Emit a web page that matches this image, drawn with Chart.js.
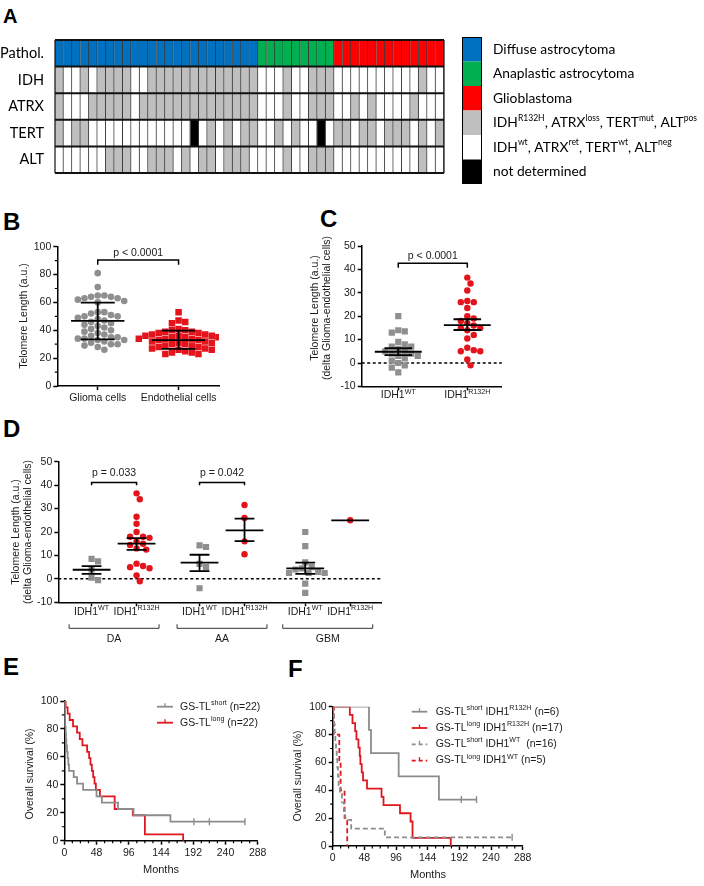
<!DOCTYPE html>
<html><head><meta charset="utf-8">
<script src="https://cdn.jsdelivr.net/npm/chart.js@4.4.0/dist/chart.umd.min.js"></script>
<style>
html,body{margin:0;padding:0;background:#fff;}
body{width:704px;height:886px;position:relative;overflow:hidden;font-family:"Liberation Sans",Arial,sans-serif;}
canvas{position:absolute;}
.lbl{position:absolute;font-weight:bold;font-size:24px;line-height:1;color:#000;font-family:"Liberation Sans",Arial,sans-serif;}
</style></head><body>
<div class="lbl" style="left:3px;top:6px;font-size:20px">A</div>
<div class="lbl" style="left:3px;top:210px">B</div>
<div class="lbl" style="left:320px;top:207px">C</div>
<div class="lbl" style="left:3px;top:417px">D</div>
<div class="lbl" style="left:3px;top:655px">E</div>
<div class="lbl" style="left:288px;top:657px">F</div>
<canvas id="cA" width="704" height="160" style="left:0;top:30px"></canvas>
<canvas id="cB" width="240" height="190" style="left:0;top:230px"></canvas>
<canvas id="cC" width="220" height="180" style="left:290px;top:230px"></canvas>
<canvas id="cD" width="400" height="205" style="left:0;top:445px"></canvas>
<canvas id="cE" width="300" height="196" style="left:0;top:690px"></canvas>
<canvas id="cF" width="414" height="196" style="left:290px;top:690px"></canvas>
<script>
// ================= DATA =================
// Panel A
const rowLabels = ['Pathol.', 'IDH', 'ATRX', 'TERT', 'ALT'];
const pathology = ['DA','DA','DA','DA','DA','DA','DA','DA','DA','DA','DA','DA','DA','DA','DA','DA','DA','DA','DA','DA','DA','DA','DA','DA',
                   'AA','AA','AA','AA','AA','AA','AA','AA','AA',
                   'GBM','GBM','GBM','GBM','GBM','GBM','GBM','GBM','GBM','GBM','GBM','GBM','GBM'];
// 1 = IDH R132H / ATRX loss / TERT mut / ALT pos, 0 = wt / ret / wt / neg, 2 = not determined
const idhRow  = [1,0,0,1,0,1,1,1,1,0,0,1,1,1,1,1,1,1,1,1,1,1,1,1, 0,0,0,1,0,0,1,1,1, 0,0,0,0,0,0,0,0,0,0,1,0,0];
const atrxRow = [1,0,0,0,1,1,1,1,1,0,1,1,1,1,1,1,1,1,1,1,1,1,1,1, 0,0,0,1,0,0,1,1,1, 0,0,1,0,1,0,0,0,0,1,0,0,0];
const tertRow = [1,0,1,1,0,0,0,0,0,0,0,0,0,0,0,0,2,0,1,0,1,0,1,1, 0,0,1,0,1,0,0,2,0, 1,1,0,1,1,0,1,1,1,0,1,0,1];
const altRow  = [0,0,0,0,0,0,1,1,1,0,0,1,1,1,0,1,0,1,1,0,1,1,1,0, 0,0,0,1,0,0,1,1,1, 0,0,0,0,0,0,0,0,0,0,1,0,0];
const legendALabels = [
  ['Diffuse astrocytoma'],
  ['Anaplastic astrocytoma'],
  ['Glioblastoma'],
  ['IDH', ['R132H'], ', ATRX', ['loss'], ', TERT', ['mut'], ', ALT', ['pos']],
  ['IDH', ['wt'], ', ATRX', ['ret'], ', TERT', ['wt'], ', ALT', ['neg']],
  ['not determined']
];

// Panel B
const bCategories = ['Glioma cells', 'Endothelial cells'];
const bGlioma = [81,71,65,65,64,64,63,63,62,61,60,53,53,52,51,50,50,49,48,47,46,45,44,43,42,41,40,39,38,37,36,35,35,34,34,33,33,32,31,30,30,29,28,26];
const bEndothelial = [53,47,46,45,41,40,40,39,39,38,38,37,37,36,36,36,35,35,35,34,34,34,33,33,33,32,32,31,31,30,30,29,29,28,28,27,27,26,26,25,24,24,23,23];
const bMean = [46.7, 33.0];
const bLow = [33.5, 26.6];
const bHigh = [59.8, 39.7];
const bP = 'p < 0.0001';

// Panel C
const cWT = [20,14,13.5,13,9,8,7,7,6,5,5,4,4,3,3,2,1,0,-1,-2,-4];
const cR132H = [36.5,34,31,26.5,26,26,23.5,20,19,18,17,16,15,15,14,12,10.5,6.5,5.5,5,5,1.5,-1];
const cMean = [4.8, 16.2];
const cLow = [3.4, 14.1];
const cHigh = [6.3, 18.7];
const cP = 'p < 0.0001';

// Panel D
const dGroups = ['DA', 'AA', 'GBM'];
const dDA_WT = [8.5,7.5,4,0.5,-0.5];
const dDA_R132H = [36.5,34,26.5,23.5,20,18,18,17.5,16,15,14.5,13,12.5,6.5,5.5,5,4.5,1.5,-1];
const dAA_WT = [14.3,13.6,6.4,5,-4];
const dAA_R132H = [31.5,26,16,10.5];
const dGBM_WT = [20,14,7,5,4.5,4,3,2.5,2.5,2.5,-2,-6];
const dGBM_R132H = [25];
const dMean = [3.9, 15.0, 6.9, 20.7, 4.5, 25];
const dLow  = [2.1, 12.4, 3.3, 16.1, 2.1, 25];
const dHigh = [5.4, 17.4, 10.3, 25.7, 6.9, 25];
const dP = ['p = 0.033', 'p = 0.042'];

// Panel E (Kaplan-Meier steps: months, survival %)
const eShortT = [0,1,2,2.5,3,4,5,6,7,14,19,28,48,56,80,103,158,269];
const eShortS = [100,81.8,77.3,72.7,68.2,63.6,59.1,54.5,50,45.5,40.9,36.4,31.8,27.3,22.7,18.2,13.6,13.6];
const eShortCensT = [193,216,269];
const eShortCensS = [13.6,13.6,13.6];
const eLongT = [0,2,5,8,13,19,23,27,34,37,39,41,43,45,47,53,75,102,120,177];
const eLongS = [100,95.5,90.9,86.4,81.8,77.3,72.7,68.2,63.6,59.1,54.5,50,45.5,40.9,36.4,31.8,22.7,18.2,4.5,0];
const eLegend = [
  ['GS-TL', ['short'], ' (n=22)'],
  ['GS-TL', ['long'], ' (n=22)']
];

// Panel F
const fShortMutT = [0,55,58,100,161,218];
const fShortMutS = [100,83.3,66.7,50,33.3,33.3];
const fShortMutCensT = [195,218];
const fShortMutCensS = [33.3,33.3];
const fLongMutT = [0,26,30,34,36,39,41,42,44,46,52,74,77,102,118,121,179];
const fLongMutS = [100,94.1,88.2,82.4,76.5,70.6,64.7,58.8,52.9,47.1,41.2,35.3,29.4,23.5,17.6,5.9,0];
const fShortWtT = [0,1,2,3,4,5,6,7,8,9,11,14,17,19,28,79,272];
const fShortWtS = [100,93.75,87.5,81.25,75,68.75,62.5,56.25,50,43.75,37.5,31.25,25,18.75,12.5,6.25,6.25];
const fShortWtCensT = [272];
const fShortWtCensS = [6.25];
const fLongWtT = [0,2,10,12,18,22];
const fLongWtS = [100,80,60,40,20,0];
const fLegend = [
  ['GS-TL', ['short'], ' IDH1', ['R132H'], ' (n=6)'],
  ['GS-TL', ['long'], ' IDH1', ['R132H'], ' (n=17)'],
  ['GS-TL', ['short'], ' IDH1', ['WT'], '  (n=16)'],
  ['GS-TL', ['long'], ' IDH1', ['WT'], ' (n=5)']
];
const kmTicks = [0,48,96,144,192,240,288];

// ================= STYLE / HELPERS =================
const FONT = '"Liberation Sans", Arial, Helvetica, sans-serif';
const LATO = 'Lato, Carlito, sans-serif';
const TXT = '#1a1a1a';
const TICK = { family: FONT, size: 10.5 };
const GRAYPT = '#8f8f8f', REDPT = '#e3141c';
const GRAYLN = '#8c8c8c', REDLN = '#e0161e';
const patholColor = { DA: '#0070C0', AA: '#00B050', GBM: '#FF0000' };
const statusColor = { 0: '#FFFFFF', 1: '#BFBFBF', 2: '#000000' };
const legendAColors = ['#0070C0', '#00B050', '#FF0000', '#BFBFBF', '#FFFFFF', '#000000'];

function richText(ctx, x, y, parts, size, family, align, color, ratio) {
  const sub = size * (ratio || 0.68);
  const segs = parts.map(p => typeof p === 'string' ? { t: p, s: false } : { t: p[0], s: true });
  let w = 0;
  segs.forEach(g => { ctx.font = (g.s ? sub : size) + 'px ' + family; g.w = ctx.measureText(g.t).width; w += g.w; });
  let cx = align === 'center' ? x - w / 2 : (align === 'right' ? x - w : x);
  ctx.save();
  ctx.fillStyle = color || TXT; ctx.textAlign = 'left'; ctx.textBaseline = 'middle';
  segs.forEach(g => { ctx.font = (g.s ? sub : size) + 'px ' + family; ctx.fillText(g.t, cx, g.s ? y - size * 0.36 : y); cx += g.w; });
  ctx.restore();
}
function rotText(ctx, x, y, text, size) {
  ctx.save(); ctx.translate(x, y); ctx.rotate(-Math.PI / 2);
  ctx.font = size + 'px ' + FONT; ctx.fillStyle = TXT; ctx.textAlign = 'center'; ctx.textBaseline = 'middle';
  ctx.fillText(text, 0, 0); ctx.restore();
}
function plainText(ctx, x, y, text, size) {
  ctx.save(); ctx.font = size + 'px ' + FONT; ctx.fillStyle = TXT; ctx.textAlign = 'center'; ctx.textBaseline = 'middle';
  ctx.fillText(text, x, y); ctx.restore();
}
function swarm(vals, cx, dxu, dyu) {
  const idx = vals.map((_, i) => i).sort((a, b) => vals[b] - vals[a]);
  const placed = [];
  const pts = [];
  for (const i of idx) {
    const v = vals[i];
    let best = 0;
    for (let k = 0; k < 80; k++) {
      const off = (k === 0 ? 0 : (k % 2 ? 1 : -1) * Math.ceil(k / 2)) * 0.5 * dxu;
      const ok = placed.every(p => ((p.o - off) / dxu) ** 2 + ((p.v - v) / dyu) ** 2 >= 0.95);
      if (ok) { best = off; break; }
    }
    placed.push({ o: best, v: v });
    pts.push({ x: cx + best, y: v });
  }
  return pts;
}
function pts(t, s) { return t.map((v, i) => ({ x: v, y: s[i] })); }

function yAxis(min, max, step, width) {
  return {
    type: 'linear', min: min, max: max,
    ticks: { stepSize: step, font: TICK, color: TXT, padding: 2 },
    grid: { drawOnChartArea: false, drawTicks: true, tickLength: 4, tickWidth: 1.5, tickColor: '#000' },
    border: { display: true, color: '#000', width: 1.5 },
    afterFit: s => { s.width = width; }
  };
}
function xAxis(min, max, tickVals, labelFn, height) {
  return {
    type: 'linear', min: min, max: max,
    afterBuildTicks: s => { s.ticks = tickVals.map(v => ({ value: v })); },
    ticks: { font: TICK, color: TXT, padding: 2, maxRotation: 0, autoSkip: false, callback: labelFn },
    grid: { drawOnChartArea: false, drawTicks: true, tickLength: 4, tickWidth: 1.5, tickColor: '#000' },
    border: { display: true, color: '#000', width: 1.5 },
    afterFit: s => { s.height = height; }
  };
}
function minorTicks(chart, axis, step, len) {
  const s = chart.scales[axis], ctx = chart.ctx, a = chart.chartArea;
  ctx.save(); ctx.strokeStyle = '#000'; ctx.lineWidth = 1.2; ctx.beginPath();
  for (let v = s.min; v <= s.max + 1e-9; v += step) {
    if (s.ticks.some(t => Math.abs(t.value - v) < 1e-9)) continue;
    const p = s.getPixelForValue(v);
    if (axis === 'y') { ctx.moveTo(a.left, p); ctx.lineTo(a.left - len, p); }
    else { ctx.moveTo(p, a.bottom); ctx.lineTo(p, a.bottom + len); }
  }
  ctx.stroke(); ctx.restore();
}
function errBars(chart, xs, mean, lo, hi, mw, cw) {
  const ctx = chart.ctx, x = chart.scales.x, y = chart.scales.y;
  ctx.save(); ctx.strokeStyle = '#000'; ctx.lineWidth = 1.8; ctx.beginPath();
  xs.forEach((xv, i) => {
    const px = x.getPixelForValue(xv);
    const mwp = x.getPixelForValue(xv + mw) - px, cwp = x.getPixelForValue(xv + cw) - px;
    const pm = y.getPixelForValue(mean[i]), pl = y.getPixelForValue(lo[i]), ph = y.getPixelForValue(hi[i]);
    ctx.moveTo(px - mwp, pm); ctx.lineTo(px + mwp, pm);
    if (hi[i] !== lo[i]) {
      ctx.moveTo(px, pl); ctx.lineTo(px, ph);
      ctx.moveTo(px - cwp, pl); ctx.lineTo(px + cwp, pl);
      ctx.moveTo(px - cwp, ph); ctx.lineTo(px + cwp, ph);
    }
  });
  ctx.stroke(); ctx.restore();
}
function pBracket(chart, x1, x2, yv, legv, txt, gap) {
  const ctx = chart.ctx, x = chart.scales.x, y = chart.scales.y;
  const p1 = x.getPixelForValue(x1), p2 = x.getPixelForValue(x2), py = y.getPixelForValue(yv), pl = y.getPixelForValue(legv);
  ctx.save(); ctx.strokeStyle = '#000'; ctx.lineWidth = 1.5; ctx.beginPath();
  ctx.moveTo(p1, pl); ctx.lineTo(p1, py); ctx.lineTo(p2, py); ctx.lineTo(p2, pl); ctx.stroke(); ctx.restore();
  plainText(ctx, (p1 + p2) / 2, py - gap, txt, 10.5);
}
function zeroLine(chart) {
  const ctx = chart.ctx, a = chart.chartArea, py = chart.scales.y.getPixelForValue(0);
  ctx.save(); ctx.strokeStyle = '#000'; ctx.lineWidth = 1.5; ctx.setLineDash([3, 2.5]);
  ctx.beginPath(); ctx.moveTo(a.left, py); ctx.lineTo(a.right, py); ctx.stroke(); ctx.restore();
}
const baseOpts = { responsive: false, animation: false, devicePixelRatio: 1, events: [],
  plugins: { legend: { display: false }, tooltip: { enabled: false } } };
function opts(extra) { return Object.assign({}, baseOpts, extra); }

// ================= PANEL A =================
const datasetsA = pathology.map((p, c) => ({
  data: rowLabels.map(() => 1),
  backgroundColor: [patholColor[p], statusColor[idhRow[c]], statusColor[atrxRow[c]], statusColor[tertRow[c]], statusColor[altRow[c]]],
  borderColor: '#3a3a3a', borderWidth: { left: 0, right: 1, top: 0, bottom: 0 }, borderSkipped: false,
  barPercentage: 1, categoryPercentage: 1
}));
new Chart(document.getElementById('cA'), {
  type: 'bar',
  data: { labels: rowLabels, datasets: datasetsA },
  options: opts({
    indexAxis: 'y',
    layout: { padding: { top: 10, bottom: 17, left: 55, right: 260 } },
    scales: {
      x: { stacked: true, min: 0, max: pathology.length, display: false },
      y: { stacked: true, display: false }
    }
  }),
  plugins: [{
    id: 'gridA',
    afterDatasetsDraw(chart) {
      const ctx = chart.ctx, a = chart.chartArea, n = rowLabels.length, h = (a.bottom - a.top) / n;
      ctx.save(); ctx.strokeStyle = '#111'; ctx.lineWidth = 2; ctx.beginPath();
      for (let k = 0; k <= n; k++) { const y = a.top + k * h; ctx.moveTo(a.left, y); ctx.lineTo(a.right, y); }
      ctx.stroke();
      ctx.lineWidth = 1.2; ctx.beginPath();
      ctx.moveTo(a.left, a.top); ctx.lineTo(a.left, a.bottom); ctx.moveTo(a.right, a.top); ctx.lineTo(a.right, a.bottom);
      ctx.stroke(); ctx.restore();
    },
    afterDraw(chart) {
      const ctx = chart.ctx, ys = chart.scales.y;
      rowLabels.forEach((lab, i) => richText(ctx, 44, ys.getPixelForValue(i), [lab], 14.5, LATO, 'right', '#000'));
      const x0 = 462, w = 20, y0 = 7, h = 24.5;
      legendALabels.forEach((parts, i) => {
        const y = y0 + i * h;
        ctx.fillStyle = legendAColors[i]; ctx.fillRect(x0, y, w, h);
        richText(ctx, 493, y + h / 2, parts, 13.8, LATO, 'left', '#000', 0.62);
      });
      ctx.save(); ctx.strokeStyle = '#000'; ctx.lineWidth = 1;
      ctx.strokeRect(x0 + 0.5, y0 + 0.5, w - 1, h * legendALabels.length - 1); ctx.restore();
    }
  }]
});

// ================= PANEL B =================
new Chart(document.getElementById('cB'), {
  type: 'scatter',
  data: { datasets: [
    { data: swarm(bGlioma, 1, 0.082, 4.8), pointStyle: 'circle', pointRadius: 3.3, backgroundColor: GRAYPT, borderWidth: 0 },
    { data: swarm(bEndothelial, 2, 0.082, 4.8), pointStyle: 'rect', pointRadius: 4.6, backgroundColor: REDPT, borderWidth: 0 }
  ] },
  options: opts({
    layout: { padding: { top: 16.7, right: 21, bottom: 4, left: 0 } },
    scales: {
      x: xAxis(0.5, 2.5, [1, 2], v => bCategories[Math.round(v) - 1], 30),
      y: yAxis(0, 100, 20, 57.3)
    }
  }),
  plugins: [{
    id: 'decoB',
    afterDatasetsDraw(chart) {
      errBars(chart, [1, 2], bMean, bLow, bHigh, 0.33, 0.21);
      pBracket(chart, 1, 2, 90.4, 87, bP, 7);
      minorTicks(chart, 'y', 10, 2.5);
    },
    afterDraw(chart) { rotText(chart.ctx, 24, 86, 'Telomere Length (a.u.)', 10.5); }
  }]
});

// ================= PANEL C =================
new Chart(document.getElementById('cC'), {
  type: 'scatter',
  data: { datasets: [
    { data: swarm(cWT, 1, 0.094, 2.8), pointStyle: 'rect', pointRadius: 4.4, backgroundColor: GRAYPT, borderWidth: 0 },
    { data: swarm(cR132H, 2, 0.094, 2.8), pointStyle: 'circle', pointRadius: 3.2, backgroundColor: REDPT, borderWidth: 0 }
  ] },
  options: opts({
    layout: { padding: { top: 16, right: 8.2, bottom: 4, left: 0 } },
    scales: {
      x: xAxis(0.47, 2.5, [1, 2], () => '', 19.6),
      y: yAxis(-10, 50, 10, 71.7)
    }
  }),
  plugins: [{
    id: 'decoC',
    beforeDatasetsDraw(chart) { zeroLine(chart); },
    afterDatasetsDraw(chart) {
      errBars(chart, [1, 2], cMean, cLow, cHigh, 0.34, 0.2);
      pBracket(chart, 1, 2, 42.6, 40.7, cP, 7);
    },
    afterDraw(chart) {
      const ctx = chart.ctx, a = chart.chartArea, x = chart.scales.x;
      richText(ctx, x.getPixelForValue(1), a.bottom + 9, ['IDH1', ['WT']], 10.5, FONT, 'center');
      richText(ctx, x.getPixelForValue(2), a.bottom + 9, ['IDH1', ['R132H']], 10.5, FONT, 'center');
      rotText(ctx, 25, 78, 'Telomere Length (a.u.)', 10.5);
      rotText(ctx, 37, 78, '(delta Glioma-endothelial cells)', 10.5);
    }
  }]
});

// ================= PANEL D =================
const dSlots = [1, 2, 3.4, 4.4, 5.75, 6.75];
const dSeries = [dDA_WT, dDA_R132H, dAA_WT, dAA_R132H, dGBM_WT, dGBM_R132H];
new Chart(document.getElementById('cD'), {
  type: 'scatter',
  data: { datasets: dSeries.map((vals, i) => ({
    data: swarm(vals, dSlots[i], 0.144, 2.8),
    pointStyle: i % 2 ? 'circle' : 'rect',
    pointRadius: i % 2 ? 3.2 : 4.4,
    backgroundColor: i % 2 ? REDPT : GRAYPT, borderWidth: 0
  })) },
  options: opts({
    layout: { padding: { top: 16.7, right: 18.3, bottom: 2, left: 0 } },
    scales: {
      x: xAxis(0.26, 7.45, dSlots, () => '', 45.7),
      y: yAxis(-10, 50, 10, 58.3)
    }
  }),
  plugins: [{
    id: 'decoD',
    beforeDatasetsDraw(chart) { zeroLine(chart); },
    afterDatasetsDraw(chart) {
      errBars(chart, dSlots, dMean, dLow, dHigh, 0.42, 0.22);
      pBracket(chart, dSlots[0], dSlots[1], 41.1, 40, dP[0], 9);
      pBracket(chart, dSlots[2], dSlots[3], 41.1, 40, dP[1], 9);
    },
    afterDraw(chart) {
      const ctx = chart.ctx, a = chart.chartArea, x = chart.scales.x;
      dSlots.forEach((s, i) => richText(ctx, x.getPixelForValue(s), a.bottom + 10, ['IDH1', [i % 2 ? 'R132H' : 'WT']], 10.5, FONT, 'center'));
      ctx.save(); ctx.strokeStyle = '#333'; ctx.lineWidth = 1;
      dGroups.forEach((g, k) => {
        const mid = (dSlots[2 * k] + dSlots[2 * k + 1]) / 2;
        const l = x.getPixelForValue(mid - 1), r = x.getPixelForValue(mid + 1), yb = a.bottom + 26;
        ctx.beginPath(); ctx.moveTo(l, yb - 4); ctx.lineTo(l, yb); ctx.lineTo(r, yb); ctx.lineTo(r, yb - 4); ctx.stroke();
        plainText(ctx, x.getPixelForValue(mid), a.bottom + 37, g, 10.5);
      });
      ctx.restore();
      rotText(ctx, 16, 87, 'Telomere Length (a.u.)', 10.5);
      rotText(ctx, 28, 87, '(delta Glioma-endothelial cells)', 10.5);
    }
  }]
});

// ================= PANEL E =================
function kmLine(t, s, color, dash) {
  return { type: 'line', data: pts(t, s), borderColor: color, borderWidth: 1.8, stepped: true, pointRadius: 0, fill: false, borderDash: dash || [] };
}
function kmCens(t, s, color) {
  return { type: 'scatter', data: pts(t, s), pointStyle: 'line', rotation: 90, pointRadius: 3.5, borderColor: color, borderWidth: 1.4, backgroundColor: color };
}
function legendEntry(ctx, x1, x2, y, color, dash, parts, tx) {
  ctx.save(); ctx.strokeStyle = color; ctx.lineWidth = 1.8; ctx.setLineDash(dash || []);
  ctx.beginPath(); ctx.moveTo(x1, y); ctx.lineTo(x2, y); ctx.stroke();
  ctx.setLineDash([]); ctx.lineWidth = 1.3; ctx.beginPath();
  const m = (x1 + x2) / 2; ctx.moveTo(m, y - 3.5); ctx.lineTo(m, y); ctx.stroke(); ctx.restore();
  richText(ctx, tx, y, parts, 10.5, FONT, 'left');
}
new Chart(document.getElementById('cE'), {
  type: 'line',
  data: { datasets: [
    kmLine(eShortT, eShortS, GRAYLN),
    kmCens(eShortCensT, eShortCensS, GRAYLN),
    kmLine(eLongT, eLongS, REDLN)
  ] },
  options: opts({
    layout: { padding: { top: 11, right: 42.3, bottom: 4, left: 0 } },
    scales: {
      x: xAxis(0, 288, kmTicks, v => String(v), 41.3),
      y: yAxis(0, 100, 20, 64.3)
    }
  }),
  plugins: [{
    id: 'decoE',
    afterDraw(chart) {
      const ctx = chart.ctx;
      minorTicks(chart, 'y', 10, 2.5);
      minorTicks(chart, 'x', 12, 2.5);
      rotText(ctx, 30, 84, 'Overall survival (%)', 10.5);
      plainText(ctx, 161, 180, 'Months', 11);
      legendEntry(ctx, 157, 173, 16.7, GRAYLN, [], eLegend[0], 180);
      legendEntry(ctx, 157, 173, 32.7, REDLN, [], eLegend[1], 180);
    }
  }]
});

// ================= PANEL F =================
new Chart(document.getElementById('cF'), {
  type: 'line',
  data: { datasets: [
    kmLine(fShortWtT, fShortWtS, GRAYLN, [5, 3]),
    kmCens(fShortWtCensT, fShortWtCensS, GRAYLN),
    kmLine(fShortMutT, fShortMutS, GRAYLN),
    kmCens(fShortMutCensT, fShortMutCensS, GRAYLN),
    kmLine(fLongMutT, fLongMutS, REDLN),
    kmLine(fLongWtT, fLongWtS, REDLN, [5, 3])
  ] },
  options: opts({
    layout: { padding: { top: 16.7, right: 181.3, bottom: 4, left: 0 } },
    scales: {
      x: xAxis(0, 288, kmTicks, v => String(v), 36),
      y: yAxis(0, 100, 20, 42.7)
    }
  }),
  plugins: [{
    id: 'decoF',
    afterDraw(chart) {
      const ctx = chart.ctx;
      minorTicks(chart, 'y', 10, 2.5);
      minorTicks(chart, 'x', 12, 2.5);
      rotText(ctx, 8, 86, 'Overall survival (%)', 10.5);
      plainText(ctx, 138, 185, 'Months', 11);
      const styles = [[GRAYLN, []], [REDLN, []], [GRAYLN, [4, 3]], [REDLN, [4, 3]]];
      fLegend.forEach((parts, i) => legendEntry(ctx, 121.7, 137.3, 21.7 + i * 16.3, styles[i][0], styles[i][1], parts, 145.7));
    }
  }]
});
</script>
</body></html>
